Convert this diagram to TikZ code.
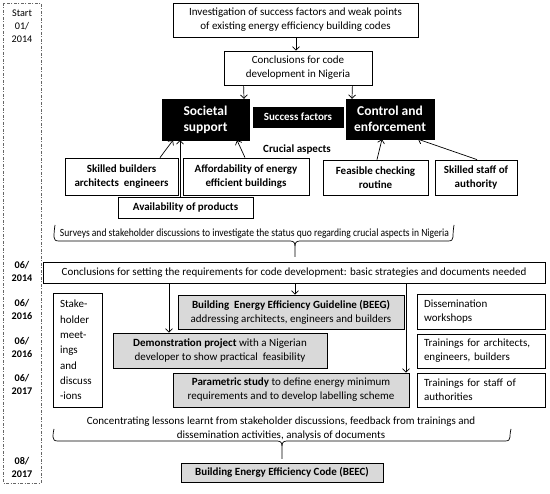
\documentclass[tikz,border=0pt]{standalone}
\usepackage{fontspec}
\setmainfont{Carlito}
\usetikzlibrary{arrows.meta}
\newcommand{\fs}{\fontsize{11}{14}\selectfont}
\newcommand{\fstk}{\fontsize{11}{15.3}\selectfont}
\newcommand{\fb}{\fontsize{13.5}{16}\selectfont}
\newcommand{\fd}{\fontsize{10.2}{13}\selectfont}
\begin{document}
\begin{tikzpicture}[x=1pt,y=-1pt,
  box/.style={draw, line width=0.8pt, inner sep=0pt, align=center, font=\fs},
  gbox/.style={box, fill=black!15},
  bbox/.style={draw, fill=black, text=white, inner sep=0pt, align=center, font=\fb\bfseries},
  arr/.style={line width=0.7pt, -{Straight Barb[length=3.5pt,width=7pt]}},
  brace/.style={line width=0.7pt},
  datelbl/.style={font=\fd\bfseries, align=center, inner sep=0pt}]
\useasboundingbox (0,0) rectangle (550,494);
% timeline
\draw[draw=black!60, line width=0.6pt, dash pattern=on 3pt off 1.5pt on 1pt off 1.5pt] (3,3) rectangle (41,483);
\node[datelbl, font=\fd] (d0) at (22,26) {Start\\01/\\2014};
\node[datelbl] (d1) at (22,271) {06/\\2014};
\node[datelbl] (d2) at (22,309.5) {06/\\2016};
\node[datelbl] (d3) at (22,347) {06/\\2016};
\node[datelbl] (d4) at (22,384) {06/\\2017};
\node[datelbl] (d5) at (22,467) {08/\\2017};
% top
\node[box, minimum width=245, minimum height=34] (inv) at (295.5,20) {Investigation of success factors and weak points\\of existing energy efficiency building codes};
\node[box, minimum width=148, minimum height=34] (concl) at (298,68) {Conclusions for code\\development in Nigeria};
\node[bbox, minimum width=87, minimum height=41] (soc) at (205.5,119.5) {Societal\\support};
\node[bbox, font=\fs\bfseries, minimum width=90, minimum height=20] (succ) at (298,117) {Success factors};
\node[bbox, minimum width=88, minimum height=40] (ctrl) at (390,119) {Control and\\enforcement};
\node[font=\fs\bfseries, inner sep=0pt] (cru) at (297,150) {Crucial aspects};
\node[box, font=\fs\bfseries, minimum width=113, minimum height=37] (skb) at (121.5,176.5) {Skilled builders\\architects\ \ engineers};
\node[box, font=\fs\bfseries, minimum width=126, minimum height=37] (aff) at (246,176.5) {Affordability of energy\\efficient buildings};
\node[box, font=\fs\bfseries, minimum width=135, minimum height=21] (avail) at (185.5,207.5) {Availability of products};
\node[box, font=\fs\bfseries, minimum width=105, minimum height=35] (feas) at (375.5,177.5) {Feasible checking\\routine};
\node[box, font=\fs\bfseries, minimum width=82, minimum height=35] (staff) at (476,177.5) {Skilled staff of\\authority};
\draw[arr] ([xshift=0.5]inv.south) -- ([xshift=-2]concl.north);
\draw[arr] ([xshift=20]concl.south west) -- ([xshift=38.5]soc.north);
\draw[arr] ([xshift=-20]concl.south east) -- ([xshift=-38]ctrl.north);
\draw[arr] ([xshift=38.5]skb.north) -- ([xshift=-32.5]soc.south);
\draw[arr] ([xshift=-5.5]avail.north) -- ([xshift=-25.5]soc.south);
\draw[arr] ([xshift=-1]aff.north) -- ([xshift=31.5]soc.south);
\draw[arr] ([xshift=1.5]feas.north) -- ([xshift=-8]ctrl.south);
\draw[arr] ([xshift=1]staff.north) -- ([xshift=28]ctrl.south);
% brace 1
\node[font=\fs, inner sep=0pt] (sur) at (254.5,234) {\scalebox{0.87}[1]{Surveys and stakeholder discussions to investigate the status quo regarding crucial aspects in Nigeria}};
\draw[brace] (55,225) .. controls (54,231) and (54,236) .. (54,237) .. controls (54,240) and (55.5,241) .. (59,241) -- (290,241) .. controls (293.5,241) and (295,242.5) .. (295,246) -- (295,257);
\draw[brace] (295,246) .. controls (295,242.5) and (296.5,241) .. (300,241) -- (448,241) .. controls (451.5,241) and (453,240) .. (453,237) .. controls (453,236) and (453,231) .. (454,225);
% middle
\node[box, minimum width=502, minimum height=21] (req) at (294,272.5) {Conclusions for setting the requirements for code development: basic strategies and documents needed};
\node[box, font=\fstk, align=left, text width=35, inner xsep=7pt, minimum height=114] (stake) at (77.5,350) {Stake-\\holder\\meet-\\ings\\and\\discuss\\-ions};
\node[gbox, minimum width=226, minimum height=34] (beeg) at (291,312) {\textbf{Building\ \ Energy Efficiency Guideline (BEEG)}\\addressing architects, engineers and builders};
\node[gbox, minimum width=214, minimum height=35] (demo) at (220,350.5) {\textbf{Demonstration project} with a Nigerian\\developer to show practical\ \ feasibility};
\node[gbox, minimum width=236, minimum height=34] (param) at (291,390) {\textbf{Parametric study} to define energy minimum\\requirements and to develop labelling scheme};
\node[box, align=left, text width=114, inner xsep=7pt, minimum height=35] (diss) at (481,311.5) {Dissemination\\workshops};
\node[box, align=left, text width=114, inner xsep=7pt, minimum height=34] (tra) at (481,351) {Trainings for architects,\\engineers, builders};
\node[box, align=left, text width=114, inner xsep=7pt, minimum height=34] (trs) at (481,390) {Trainings for staff of\\authorities};
\draw[arr] ([xshift=1]req.south) -- ([xshift=4]beeg.north);
\draw[arr] ([xshift=-125]req.south) -- ([xshift=-51]demo.north);
\draw[arr] ([xshift=112]req.south) -- ([xshift=115]param.north);
% brace 2
\node[font=\fs, align=center, inner sep=0pt] (conc) at (281,428.5) {Concentrating lessons learnt from stakeholder discussions, feedback from trainings and\\dissemination activities, analysis of documents};
\draw[brace] (54,429) .. controls (53,433) and (53,436) .. (53,437) .. controls (53,440) and (54.5,441) .. (58,441) -- (277,441) .. controls (280.5,441) and (282,442.5) .. (282,446) -- (282,459);
\draw[brace] (282,446) .. controls (282,442.5) and (283.5,441) .. (287,441) -- (505,441) .. controls (508.5,441) and (510,440) .. (510,437) .. controls (510,436) and (510,433) .. (511,429);
\node[gbox, font=\fs\bfseries, minimum width=202, minimum height=19] (beec) at (282,472.5) {Building Energy Efficiency Code (BEEC)};
\end{tikzpicture}
\end{document}
